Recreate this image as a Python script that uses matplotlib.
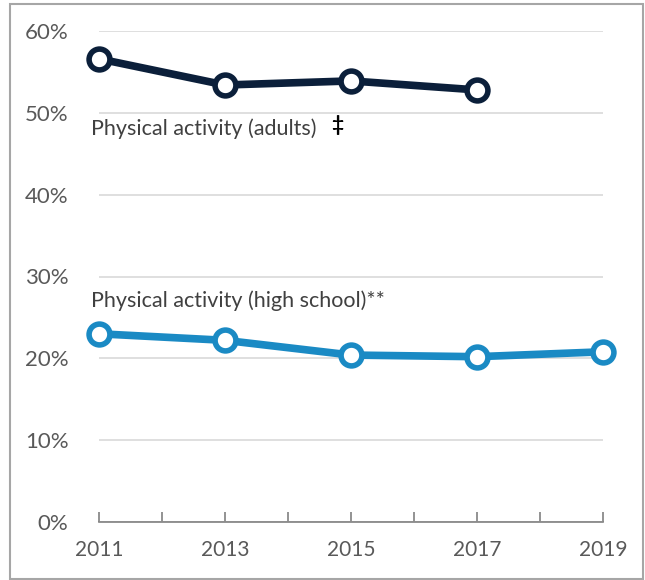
import matplotlib.pyplot as plt
from matplotlib.patches import Rectangle
from matplotlib.ticker import FuncFormatter

# data
years_adult = [2011, 2013, 2015, 2017]
adults = [56.6, 53.4, 53.9, 52.8]
years_hs = [2011, 2013, 2015, 2017, 2019]
high_school = [23.0, 22.2, 20.4, 20.2, 20.8]
year_ticks = list(range(2011, 2020))
year_labels = [2011, 2013, 2015, 2017, 2019]
pct_ticks = [0, 10, 20, 30, 40, 50, 60]

plt.rcParams['font.family'] = ['Lato', 'DejaVu Sans']

fig = plt.figure(figsize=(6.45, 5.8), dpi=100)
ax = fig.add_axes([99 / 645, 1 - 522 / 580, 504 / 645, 491 / 580])

# outer frame
fig.patches.append(Rectangle((10 / 645, 1 / 580), 633 / 645, 575 / 580,
                             transform=fig.transFigure, fill=False,
                             ec="#a6a6a6", lw=1.5))

navy = "#0b1f3a"
blue = "#1a8ac4"
for xs, ys, c in [(years_adult, adults, navy), (years_hs, high_school, blue)]:
    ax.plot(xs, ys, color=c, lw=5.5, marker="o", ms=15, mfc="white",
            mec=c, mew=4, clip_on=False, zorder=3)

ax.set_xlim(2011, 2019)
ax.set_ylim(0, 60)
ax.set_yticks(pct_ticks)
ax.yaxis.set_major_formatter(FuncFormatter(lambda v, p: f"{v:.0f}%"))
ax.grid(axis="y", color="#d9d9d9", lw=1.2)
ax.set_axisbelow(True)

ax.set_xticks(year_ticks)
ax.set_xticklabels([str(y) if y in year_labels else "" for y in year_ticks])
ax.tick_params(axis="x", direction="in", length=7, width=1.2, color="#808080",
               labelsize=15, labelcolor="#595959", pad=13)
ax.tick_params(axis="y", length=0, labelsize=16, labelcolor="#595959", pad=22)

for s in ["top", "right", "left"]:
    ax.spines[s].set_visible(False)
ax.spines["bottom"].set_color("#808080")
ax.spines["bottom"].set_linewidth(1.2)

ax.text(2010.87, 48.1, "Physical activity (adults)", fontsize=15.5,
        color="#404040", va="center")
ax.text(2014.68, 48.5, "‡", fontsize=15, fontweight="bold",
        color="#000000", va="center")
ax.text(2010.87, 27.0, "Physical activity (high school)**", fontsize=15.5,
        color="#404040", va="center")

fig.savefig("out.png", dpi=100)
